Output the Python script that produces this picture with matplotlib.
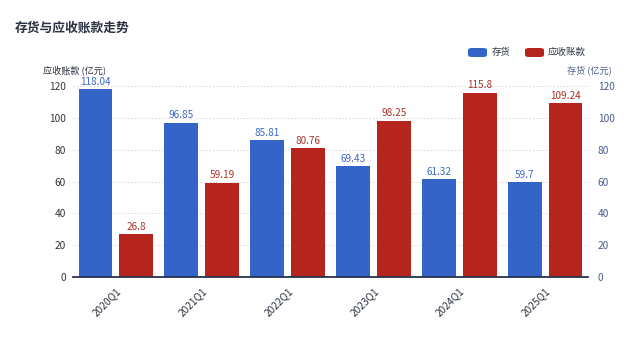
import matplotlib
matplotlib.use("Agg")
import matplotlib.pyplot as plt
from matplotlib.patches import FancyBboxPatch
import numpy as np

plt.rcParams['font.family'] = ['Noto Sans CJK SC', 'DejaVu Sans']

quarters = ["2020Q1", "2021Q1", "2022Q1", "2023Q1", "2024Q1", "2025Q1"]
inventory = [118.04, 96.85, 85.81, 69.43, 61.32, 59.7]
receivables = [26.8, 59.19, 80.76, 98.25, 115.8, 109.24]
y_ticks = [0, 20, 40, 60, 80, 100, 120]

blue = "#3564C8"
red = "#B5251D"
blue_txt = "#3D69C2"
red_txt = "#A93328"

fig = plt.figure(figsize=(6.4, 3.47), dpi=100)
ax = fig.add_axes([73 / 640, 1 - 277 / 347, 515 / 640, 191 / 347])

x = np.arange(len(quarters))
w = 0.395
off = 0.238
ax.bar(x - off, inventory, w, color=blue, zorder=3)
ax.bar(x + off, receivables, w, color=red, zorder=3)

for xi, v in zip(x, inventory):
    ax.text(xi - off, v + 1.5, f"{v:g}", ha="center", va="bottom",
            fontsize=7.2, color=blue_txt, zorder=4)
for xi, v in zip(x, receivables):
    ax.text(xi + off, v + 1.5, f"{v:g}", ha="center", va="bottom",
            fontsize=7.2, color=red_txt, zorder=4)

ax.set_xlim(-0.5, len(quarters) - 0.5)
ax.set_ylim(0, 120)
ax.set_yticks(y_ticks)
ax.tick_params(axis="y", length=0, pad=5, labelsize=7.3, labelcolor="#333333")
ax.set_xticks(x)
ax.set_xticklabels(quarters, rotation=45, ha="right", rotation_mode="anchor",
                   fontsize=7.3, color="#2b3140")
ax.tick_params(axis="x", length=0, pad=6)

for s in ["top", "right", "left"]:
    ax.spines[s].set_visible(False)
ax.spines["bottom"].set_color("#26324f")
ax.spines["bottom"].set_linewidth(1.3)
ax.spines["bottom"].set_zorder(5)

ax.yaxis.grid(True, linestyle=(0, (1.5, 2)), color="#d8d8d8", linewidth=0.7, zorder=0)
ax.set_axisbelow(True)

ax2 = ax.twinx()
ax2.set_ylim(0, 120)
ax2.set_yticks(y_ticks)
ax2.tick_params(axis="y", length=0, pad=7, labelsize=7.3, labelcolor="#4a5a8c")
for s in ["top", "right", "left", "bottom"]:
    ax2.spines[s].set_visible(False)

fig.text(15 / 640, 1 - 28 / 347, "存货与应收账款走势", fontsize=9.2, fontweight="bold",
         color="#2a3142", va="center", ha="left")
fig.text(43 / 640, 1 - 70 / 347, "应收账款 (亿元)", fontsize=6.6, color="#2b3140",
         va="center", ha="left")
fig.text(612 / 640, 1 - 70 / 347, "存货 (亿元)", fontsize=6.6, color="#4a5a8c",
         va="center", ha="right")

# legend with rounded swatches
def swatch(x0, color):
    p = FancyBboxPatch((x0 / 640, 1 - 57 / 347), 19 / 640, 9 / 347,
                       boxstyle="round,pad=0,rounding_size=0.006",
                       transform=fig.transFigure, facecolor=color,
                       edgecolor="none")
    fig.patches.append(p)

swatch(468, blue)
fig.text(492 / 640, 1 - 52 / 347, "存货", fontsize=6.8, color="#2b3140", va="center")
swatch(525, red)
fig.text(548 / 640, 1 - 52 / 347, "应收账款", fontsize=6.8, color="#2b3140", va="center")

fig.savefig("out.png", dpi=100, facecolor="white")
